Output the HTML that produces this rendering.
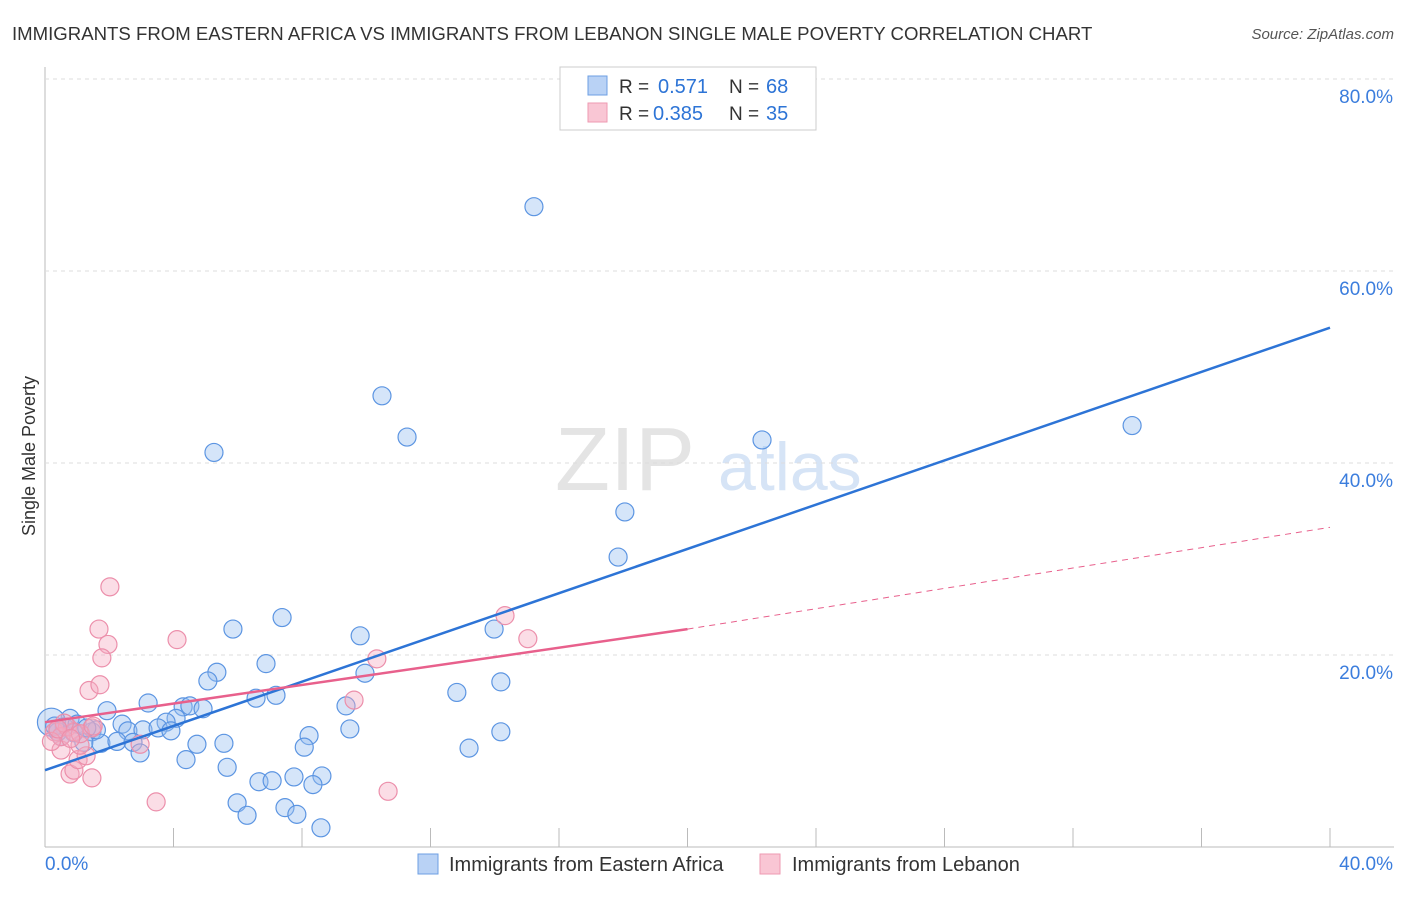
<!DOCTYPE html>
<html><head><meta charset="utf-8"><style>
body{margin:0;background:#fff;font-family:"Liberation Sans",sans-serif;}
svg text{font-family:"Liberation Sans",sans-serif;}
</style></head><body>
<svg id="c" width="1406" height="892">
<text x="12" y="40" font-size="18.6" fill="#333">IMMIGRANTS FROM EASTERN AFRICA VS IMMIGRANTS FROM LEBANON SINGLE MALE POVERTY CORRELATION CHART</text>
<text x="1394" y="39" font-size="15" fill="#555" font-style="italic" text-anchor="end">Source: ZipAtlas.com</text>
<text x="35" y="456" font-size="18" fill="#333" text-anchor="middle" transform="rotate(-90 35 456)">Single Male Poverty</text>
<text x="555" y="490" font-size="90" fill="#e4e4e4" font-family="Liberation Serif">ZIP</text>
<text x="718" y="490" font-size="68" fill="#d6e4f6">atlas</text>
<g id="grid"></g><g id="pts"></g><g id="lines"></g>
<g>
<rect x="560" y="67" width="256" height="63" fill="#fff" stroke="#ccc"/>
<rect x="588" y="76" width="19" height="19" fill="#b9d2f5" stroke="#6d9fe3"/>
<rect x="588" y="103" width="19" height="19" fill="#f9c6d4" stroke="#ee9ab2"/>
<text x="619" y="93" font-size="19" fill="#333">R =</text>
<text x="658" y="93" font-size="20" fill="#2d74d6">0.571</text>
<text x="729" y="93" font-size="19" fill="#333">N =</text>
<text x="766" y="93" font-size="20" fill="#2d74d6">68</text>
<text x="619" y="120" font-size="19" fill="#333">R =</text>
<text x="653" y="120" font-size="20" fill="#2d74d6">0.385</text>
<text x="729" y="120" font-size="19" fill="#333">N =</text>
<text x="766" y="120" font-size="20" fill="#2d74d6">35</text>
</g>
<g>
<rect x="418" y="854" width="20" height="20" fill="#b9d2f5" stroke="#6d9fe3"/>
<text x="449" y="871" font-size="20" fill="#333">Immigrants from Eastern Africa</text>
<rect x="760" y="854" width="20" height="20" fill="#f9c6d4" stroke="#ee9ab2"/>
<text x="792" y="871" font-size="20" fill="#333">Immigrants from Lebanon</text>
</g>
</svg>
<script>
const yTicks=[20,40,60,80];
const yTickLabels=["20.0%","40.0%","60.0%","80.0%"];
const xTickLabels=["0.0%","40.0%"];
const blueX=[15.22,10.49,11.27,5.26,22.32,33.84,18.05,17.84,7.38,5.85,9.81,13.98,6.88,5.35,9.96,5.07,14.19,12.82,6.57,7.19,3.21,4.30,4.51,4.92,9.37,1.93,4.08,3.77,2.40,0.78,2.58,3.05,3.52,3.92,9.49,14.19,8.22,1.46,1.21,1.74,2.24,2.74,4.73,5.57,8.07,13.20,2.96,4.39,5.67,8.62,7.75,6.66,7.07,8.34,5.98,7.47,7.84,6.29,8.59,0.2,0.6,1.0,0.4,1.6,0.3,0.9,1.3,0.5];
const blueY=[66.7,47.0,42.7,41.1,42.4,43.9,34.9,30.2,23.9,22.7,22.0,22.7,19.1,18.2,18.1,17.3,17.2,16.1,15.5,15.8,15.0,14.6,14.7,14.4,14.7,14.2,13.4,13.0,12.8,13.4,12.1,12.2,12.4,12.1,12.3,12.0,11.6,12.0,10.9,10.8,11.0,10.9,10.7,10.8,10.4,10.3,9.8,9.1,8.3,7.4,7.3,6.8,6.9,6.5,4.6,4.1,3.4,3.3,2.0,13.0,12.5,12.8,12.0,12.2,12.6,11.9,12.4,11.5];
const pinkX=[2.02,1.68,1.96,1.77,4.11,1.37,1.71,14.32,15.03,10.33,9.62,10.68,3.46,0.78,0.90,1.46,1.03,1.28,1.09,0.50,2.96,1.46,0.3,0.5,0.7,0.2,0.9,0.6,1.1,0.4,1.5,0.8];
const pinkY=[27.1,22.7,21.1,19.7,21.6,16.3,16.9,24.1,21.7,19.6,15.3,5.8,4.7,7.6,8.0,7.2,9.1,9.5,10.6,10.1,10.7,12.4,12.0,11.5,12.5,11.0,12.0,12.9,11.8,12.3,12.6,11.3];
const blueLine=[8.0,54.1];
const pinkLine=[13.0,22.7,33.3];
const NS="http://www.w3.org/2000/svg";
const xs=v=>45+v/40*1285, ys=v=>847-v/20*192;
function mk(t,a,p){const e=document.createElementNS(NS,t);for(const k in a)e.setAttribute(k,a[k]);p.appendChild(e);return e;}
const grid=document.getElementById('grid');
const ax=mk('line',{x1:45,y1:67,x2:45,y2:847,stroke:'#bbb'},grid);


const bx=mk('line',{x1:45,y1:847,x2:1394,y2:847,stroke:'#bbb'},grid);


yTicks.forEach((t,i)=>{
 const g=mk('line',{x1:45,x2:1394,y1:ys(t),y2:ys(t),stroke:'#ddd','stroke-dasharray':'4,4'},grid);
 
 
 const l=mk('text',{x:1393,y:ys(t)+24,'font-size':19,fill:'#3b7ddd','text-anchor':'end'},grid);l.textContent=yTickLabels[i];
 
 
});
for(let i=1;i<=10;i++){const x=xs(i*4);const t=mk('line',{x1:x,x2:x,y1:828,y2:847,stroke:'#bbb'},grid);
 
 }
[[0,45,'start'],[40,1393,'end']].forEach((d,i)=>{const l=mk('text',{x:d[1],y:870,'font-size':19,fill:'#3b7ddd','text-anchor':d[2]},grid);l.textContent=xTickLabels[i];
 
 });
const pts=document.getElementById('pts');
blueX.forEach((v,i)=>{const c=mk('circle',{cx:xs(v),cy:ys(blueY[i]),r:i==59?14:9,fill:'rgba(150,190,240,0.4)',stroke:'#5c95e2','stroke-width':1.2},pts);
 
 });
pinkX.forEach((v,i)=>{const c=mk('circle',{cx:xs(v),cy:ys(pinkY[i]),r:9,fill:'rgba(245,170,192,0.4)',stroke:'#ec8fab','stroke-width':1.2},pts);
 
 });
const ln=document.getElementById('lines');
const b=mk('line',{x1:xs(0),y1:ys(blueLine[0]),x2:xs(40),y2:ys(blueLine[1]),stroke:'#2d74d6','stroke-width':2.5},ln);


const p=mk('line',{x1:xs(0),y1:ys(pinkLine[0]),x2:xs(20),y2:ys(pinkLine[1]),stroke:'#e8608c','stroke-width':2.5},ln);


const pd=mk('line',{x1:xs(20),y1:ys(pinkLine[1]),x2:xs(40),y2:ys(pinkLine[2]),stroke:'#e8608c','stroke-width':1,'stroke-dasharray':'6,5'},ln);


</script>
</body></html>
